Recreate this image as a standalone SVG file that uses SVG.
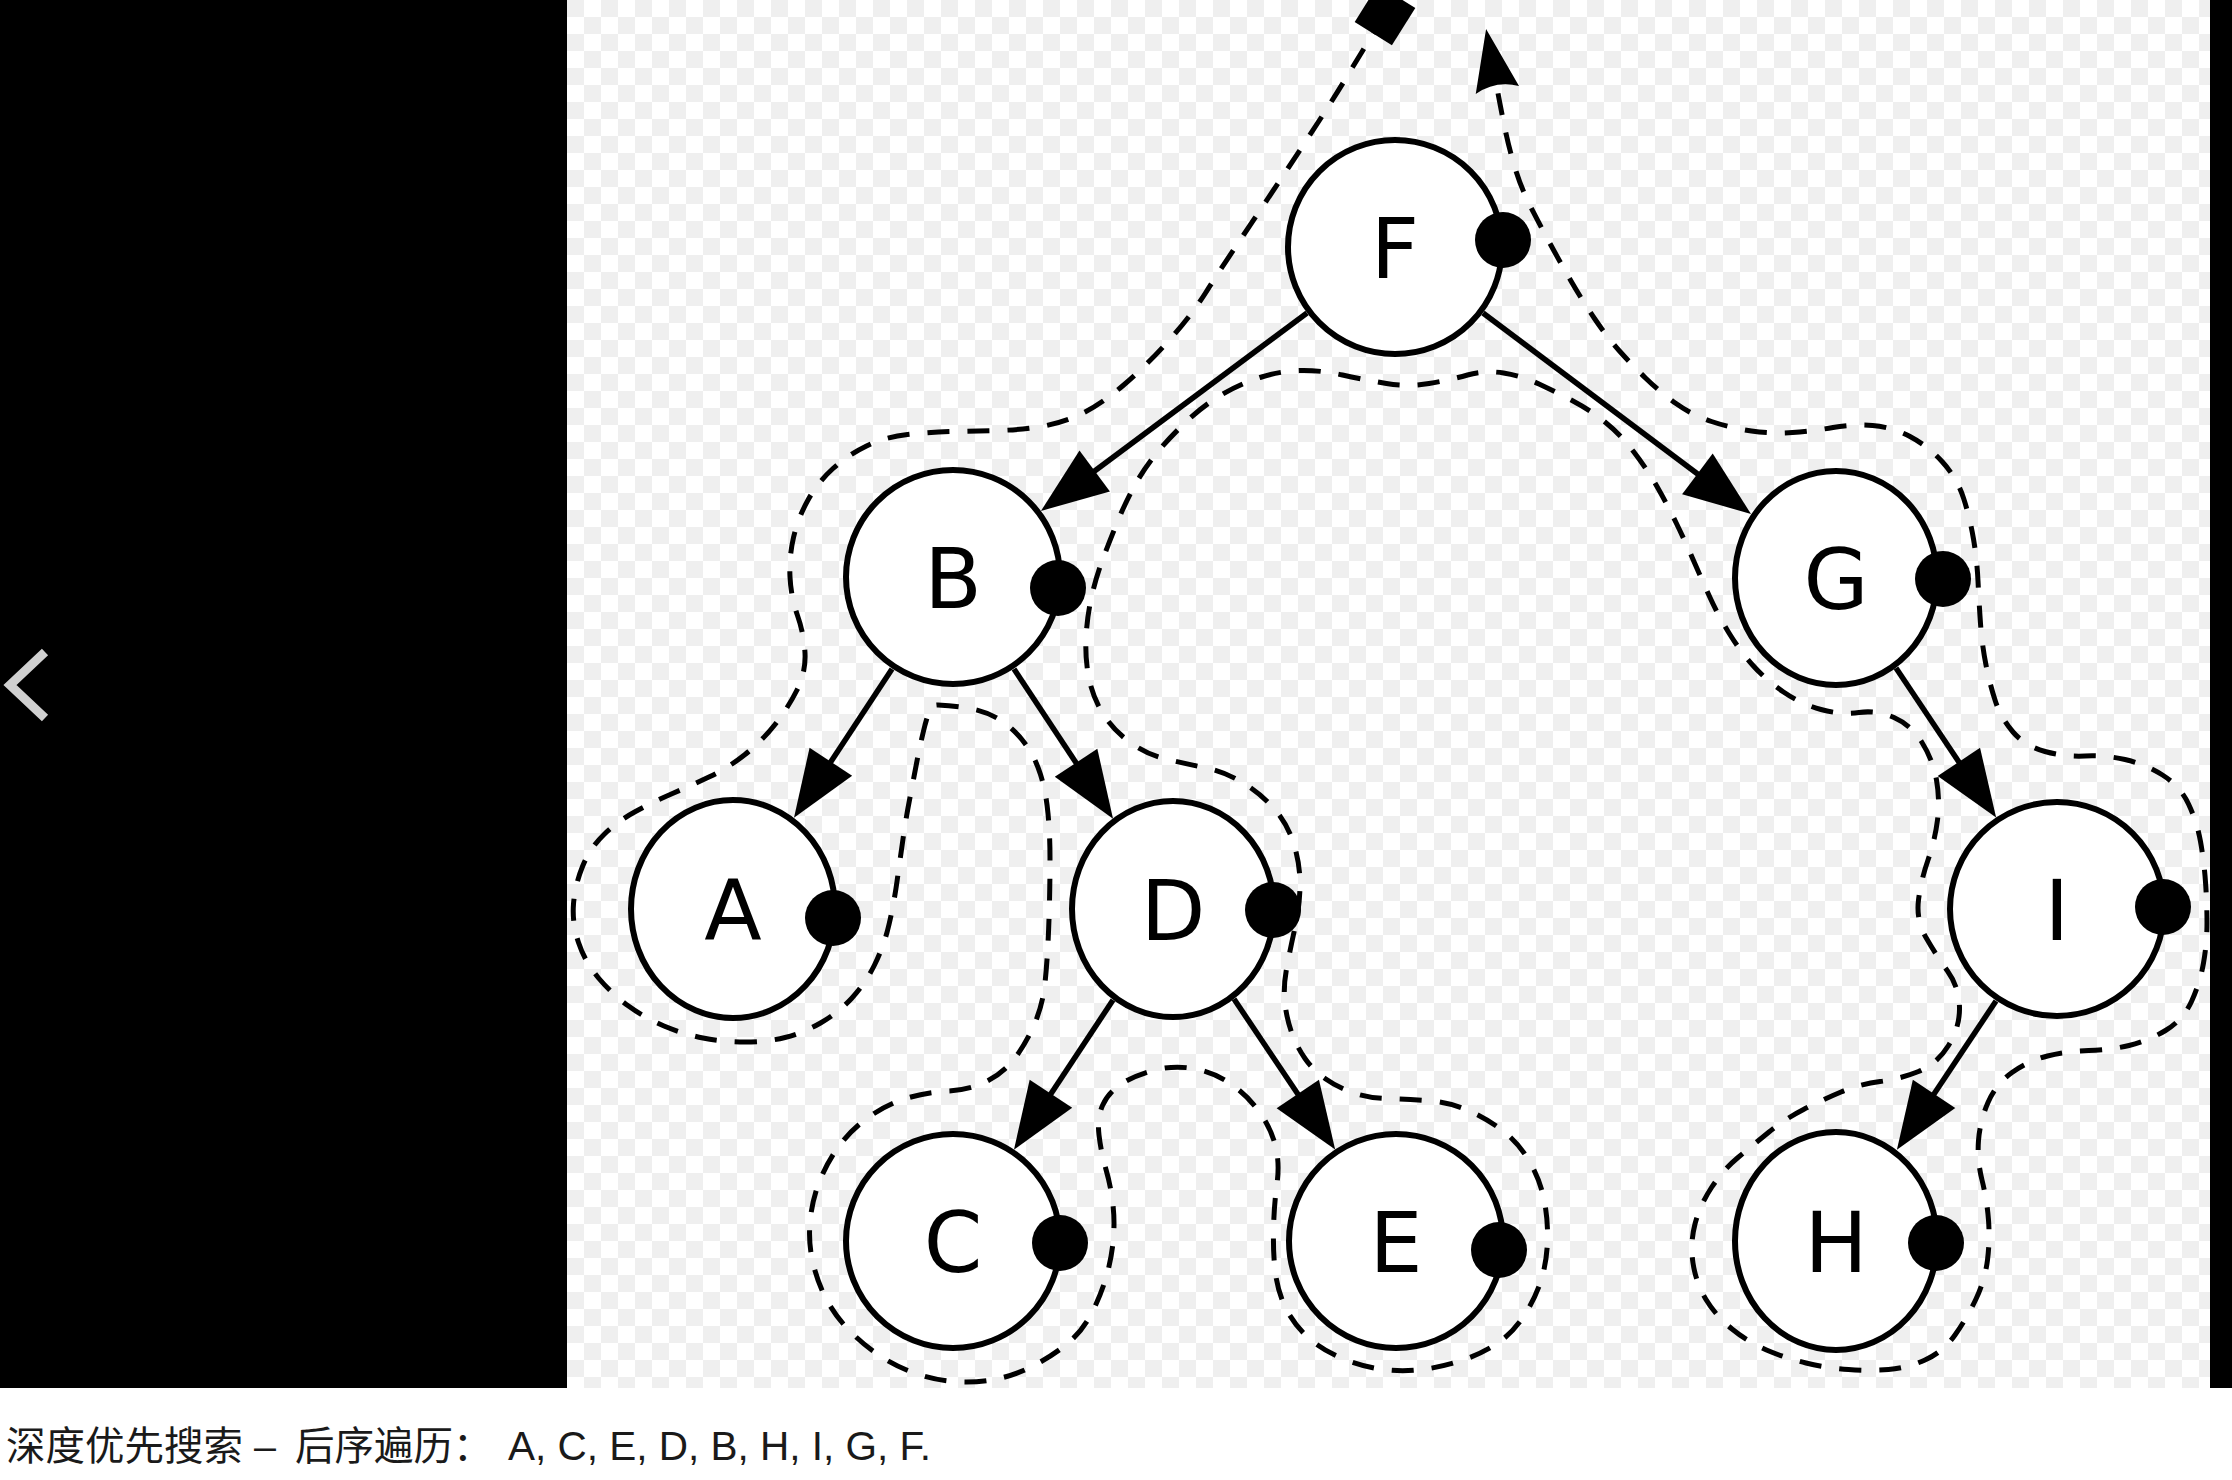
<svg xmlns="http://www.w3.org/2000/svg" width="2232" height="1480" viewBox="0 0 2232 1480">
<defs>
<style>
.node{fill:#fff;stroke:#000;stroke-width:6}
.dot{fill:#000}
.lbl{font-family:"DejaVu Sans","Liberation Sans",sans-serif;font-size:84px;fill:#000;text-anchor:middle}
.edge{stroke:#000;stroke-width:5.5;fill:none;marker-end:url(#arr)}
.tour{stroke:#000;stroke-width:5;fill:none;stroke-dasharray:22 18;marker-start:url(#sq);marker-end:url(#arr2)}
.cap{font-family:"Liberation Sans","Noto Sans CJK SC",sans-serif;font-size:39.5px;fill:#1a1a1a}
</style>
<pattern id="chk" x="567" y="0" width="34" height="34" patternUnits="userSpaceOnUse">
<rect width="34" height="34" fill="#fff"/>
<rect width="17" height="17" fill="#efefef"/>
<rect x="17" y="17" width="17" height="17" fill="#efefef"/>
</pattern>
<marker id="arr" viewBox="-50 -30 75 60" refX="0" refY="0" markerWidth="75" markerHeight="60" markerUnits="userSpaceOnUse" orient="auto">
<path d="M20,0 L-47,-25.5 L-47,25.5 Z" fill="#000"/>
</marker>
<marker id="arr2" viewBox="-10 -30 75 60" refX="0" refY="0" markerWidth="75" markerHeight="60" markerUnits="userSpaceOnUse" orient="auto">
<path d="M60,0 L-2,-22 Q8,0 -2,22 Z" fill="#000"/>
</marker>
<marker id="sq" viewBox="-25 -25 50 50" refX="0" refY="0" markerWidth="50" markerHeight="50" markerUnits="userSpaceOnUse" orient="auto">
<rect x="-22" y="-22" width="44" height="44" fill="#000"/>
</marker>
</defs>

<g id="background">
<rect x="0" y="0" width="2232" height="1480" fill="#fff"/>
<rect x="567" y="0" width="1643" height="1388" fill="url(#chk)"/>
<rect x="0" y="0" width="567" height="1388" fill="#000"/>
<rect x="2210" y="0" width="22" height="1388" fill="#000"/>
<polyline points="45,652 10,685 45,718" fill="none" stroke="#d0d0d0" stroke-width="9"/>
</g>

<g id="connectors">
<line class="edge" x1="1307" y1="313" x2="1057" y2="499"/>
<line class="edge" x1="1483" y1="313" x2="1735" y2="502"/>
<line class="edge" x1="892" y1="669" x2="805" y2="801"/>
<line class="edge" x1="1014" y1="669" x2="1102" y2="802"/>
<line class="edge" x1="1896" y1="668" x2="1985" y2="801"/>
<line class="edge" x1="1113" y1="1000" x2="1025" y2="1133"/>
<line class="edge" x1="1234" y1="999" x2="1324" y2="1133"/>
<line class="edge" x1="1996" y1="1001" x2="1908" y2="1133"/>
<path id="traversal" class="tour" d="M1385,15 L1374,32.5 Q1363,50 1350,71.5 Q1337,93 1323.5,114 Q1310,135 1288.5,167.5 Q1267,200 1243.5,235 Q1220,270 1205.5,293 Q1191,316 1168,341.5 Q1145,367 1122.5,386 Q1100,405 1081,414 Q1062,423 1041,426.5 Q1020,430 997.5,430.5 Q975,431 952.5,431.5 Q930,432 907.5,434.5 Q885,437 866.5,446 Q848,455 833,468.5 Q818,482 808,500 Q798,518 793.5,537.5 Q789,557 790,577 Q791,597 797.5,615.5 Q804,634 805,653 Q806,672 797,690 Q788,708 775,724.5 Q762,741 745,754.5 Q728,768 710,776.5 Q692,785 672.5,793.5 Q653,802 635.5,811.5 Q618,821 604,834.5 Q590,848 582.5,866.5 Q575,885 573.5,904 Q572,923 578.5,942.5 Q585,962 598.5,978 Q612,994 628.5,1006 Q645,1018 664,1026 Q683,1034 703,1038 Q723,1042 745,1042 Q767,1042 785,1037.5 Q803,1033 820.5,1023 Q838,1013 851.5,998.5 Q865,984 874.5,965 Q884,946 889,924.5 Q894,903 897,881.5 Q900,860 903,839 Q906,818 909.5,800 Q913,782 916.5,763.5 Q920,745 925,725 L929,711 Q931,705 938,705 Q960,706 975,709.5 Q990,713 1002.5,721.5 Q1015,730 1025,743.5 Q1035,757 1040.5,774.5 Q1046,792 1048,813.5 Q1050,835 1050,857.5 Q1050,880 1049.5,901.5 Q1049,923 1048,943 Q1047,963 1045,983 Q1043,1003 1035.5,1021.5 Q1028,1040 1016.5,1056 Q1005,1072 987.5,1081 Q970,1090 949,1091 Q928,1092 909,1097.5 Q890,1103 872.5,1114.5 Q855,1126 842.5,1141.5 Q830,1157 821.5,1176.5 Q813,1196 810.5,1217.5 Q808,1239 812,1258.5 Q816,1278 824.5,1295.5 Q833,1313 846.5,1327.5 Q860,1342 876.5,1353.5 Q893,1365 913,1372.5 Q933,1380 954,1381.5 Q975,1383 994,1379.5 Q1013,1376 1031,1367 Q1049,1358 1064.5,1346 Q1080,1334 1089.5,1317 Q1099,1300 1105,1281 Q1111,1262 1113,1242.5 Q1115,1223 1113,1205 Q1111,1187 1106,1169.5 Q1101,1152 1099,1135 Q1097,1118 1102.5,1105.5 Q1108,1093 1120.5,1084.5 Q1133,1076 1153,1070.5 Q1173,1065 1193,1068.5 Q1213,1072 1229.5,1083 Q1246,1094 1258,1110 Q1270,1126 1275,1144 Q1280,1162 1277,1183.5 Q1274,1205 1273.5,1230 Q1273,1255 1275.5,1273.5 Q1278,1292 1285.5,1307.5 Q1293,1323 1306,1335.5 Q1319,1348 1338,1356.5 Q1357,1365 1377,1368.5 Q1397,1372 1417.5,1370 Q1438,1368 1458.5,1361.5 Q1479,1355 1495.5,1344.5 Q1512,1334 1523.5,1316.5 Q1535,1299 1541,1280.5 Q1547,1262 1547.5,1239.5 Q1548,1217 1543.5,1197 Q1539,1177 1528,1159 Q1517,1141 1500.5,1129 Q1484,1117 1466,1109.5 Q1448,1102 1426.5,1100.5 Q1405,1099 1386.5,1098.5 Q1368,1098 1352.5,1092.5 Q1337,1087 1325,1078.5 Q1313,1070 1305,1058.5 Q1297,1047 1292,1033.5 Q1287,1020 1285,1004 Q1283,988 1286.5,969 Q1290,950 1295,927.5 Q1300,905 1300,884 Q1300,863 1293.5,843 Q1287,823 1273.5,808 Q1260,793 1242.5,782.5 Q1225,772 1206,768 Q1187,764 1167.5,759.5 Q1148,755 1131,743 Q1114,731 1103.5,714.5 Q1093,698 1089,678.5 Q1085,659 1086,638 Q1087,617 1091.5,597 Q1096,577 1103,558.5 Q1110,540 1118,520.5 Q1126,501 1135.5,484 Q1145,467 1157.5,452 Q1170,437 1187,421 Q1204,405 1222,394.5 Q1240,384 1260,377.5 Q1280,371 1300,370.5 Q1320,370 1342.5,375 Q1365,380 1386.5,383.5 Q1408,387 1429,383.5 Q1450,380 1467.5,375 Q1485,370 1503.5,373 Q1522,376 1539,384 Q1556,392 1573,401 Q1590,410 1605,422 Q1620,434 1633.5,451.5 Q1647,469 1657,486.5 Q1667,504 1676,522.5 Q1685,541 1693.5,560.5 Q1702,580 1710,597.5 Q1718,615 1729,633 Q1740,651 1753,665.5 Q1766,680 1783.5,692 Q1801,704 1821,709.5 Q1841,715 1859,712.5 Q1877,710 1894,717.5 Q1911,725 1922,742.5 Q1933,760 1936.5,780 Q1940,800 1937.5,820 Q1935,840 1928,860 Q1921,880 1918.5,900 Q1916,920 1926,937.5 Q1936,955 1947.5,971 Q1959,987 1959.5,1007 Q1960,1027 1948.5,1045.5 Q1937,1064 1918.5,1071.5 Q1900,1079 1880,1081.5 Q1860,1084 1841,1092 Q1822,1100 1803.5,1109.5 Q1785,1119 1769,1132 Q1753,1145 1738,1157.5 Q1723,1170 1711.5,1187.5 Q1700,1205 1695,1224 Q1690,1243 1693,1263 Q1696,1283 1706,1299.5 Q1716,1316 1732,1329 Q1748,1342 1766.5,1350 Q1785,1358 1806,1363 Q1827,1368 1848.5,1369.5 Q1870,1371 1888.5,1369.5 Q1907,1368 1925,1360 Q1943,1352 1955,1335 Q1967,1318 1976,1299 Q1985,1280 1987.5,1260 Q1990,1240 1988.5,1220 Q1987,1200 1982,1180 Q1977,1160 1978.5,1140.5 Q1980,1121 1988,1102.5 Q1996,1084 2012,1072.5 Q2028,1061 2047.5,1056 Q2067,1051 2088.5,1050.5 Q2110,1050 2129,1045.5 Q2148,1041 2165.5,1030.5 Q2183,1020 2191.5,1001.5 Q2200,983 2203.5,963 Q2207,943 2207,923 Q2207,903 2205.5,882 Q2204,861 2200.5,841.5 Q2197,822 2188.5,804 Q2180,786 2162.5,775 Q2145,764 2125,759.5 Q2105,755 2085,756 Q2065,757 2045,751.5 Q2025,746 2013,732 Q2001,718 1995.5,701.5 Q1990,685 1986,665 Q1982,645 1980.5,623.5 Q1979,602 1978,581 Q1977,560 1973.5,539 Q1970,518 1963.5,498 Q1957,478 1942.5,462 Q1928,446 1910,436.5 Q1892,427 1872.5,425.5 Q1853,424 1833,427.5 Q1813,431 1792.5,432.5 Q1772,434 1751.5,431 Q1731,428 1711.5,421.5 Q1692,415 1676,403.5 Q1660,392 1646,378.5 Q1632,365 1619.5,351 Q1607,337 1594.5,318.5 Q1582,300 1571,281 Q1560,262 1550,243.5 Q1540,225 1531,207.5 Q1522,190 1516,171 Q1510,152 1506,133.5 Q1502,115 1497,88"/>
</g>

<g id="node-F"><circle class="node" cx="1395" cy="247" r="107"/><text class="lbl" x="1395" y="278">F</text><circle class="dot" cx="1503" cy="240" r="28"/></g>
<g id="node-B"><circle class="node" cx="953" cy="577" r="107"/><text class="lbl" x="953" y="608">B</text><circle class="dot" cx="1058" cy="588" r="28"/></g>
<g id="node-G"><ellipse class="node" cx="1836" cy="578" rx="101" ry="107"/><text class="lbl" x="1836" y="609">G</text><circle class="dot" cx="1943" cy="579" r="28"/></g>
<g id="node-A"><ellipse class="node" cx="733" cy="909" rx="102" ry="109"/><text class="lbl" x="733" y="940">A</text><circle class="dot" cx="833" cy="918" r="28"/></g>
<g id="node-D"><ellipse class="node" cx="1173" cy="909" rx="101" ry="108"/><text class="lbl" x="1173" y="940">D</text><circle class="dot" cx="1273" cy="910" r="28"/></g>
<g id="node-I"><circle class="node" cx="2057" cy="909" r="107"/><text class="lbl" x="2057" y="940">I</text><circle class="dot" cx="2163" cy="907" r="28"/></g>
<g id="node-C"><circle class="node" cx="953" cy="1241" r="107"/><text class="lbl" x="953" y="1272">C</text><circle class="dot" cx="1060" cy="1243" r="28"/></g>
<g id="node-E"><circle class="node" cx="1396" cy="1241" r="107"/><text class="lbl" x="1396" y="1272">E</text><circle class="dot" cx="1499" cy="1250" r="28"/></g>
<g id="node-H"><ellipse class="node" cx="1836" cy="1241" rx="101" ry="109"/><text class="lbl" x="1836" y="1272">H</text><circle class="dot" cx="1936" cy="1243" r="28"/></g>

<g id="caption">
<text class="cap" y="1460"><tspan x="6">深度优先搜索 </tspan><tspan x="254">– </tspan><tspan x="295">后序遍历： </tspan><tspan x="508" font-size="40.5">A, C, E, D, B, H, I, G, F.</tspan></text>
</g>
</svg>
